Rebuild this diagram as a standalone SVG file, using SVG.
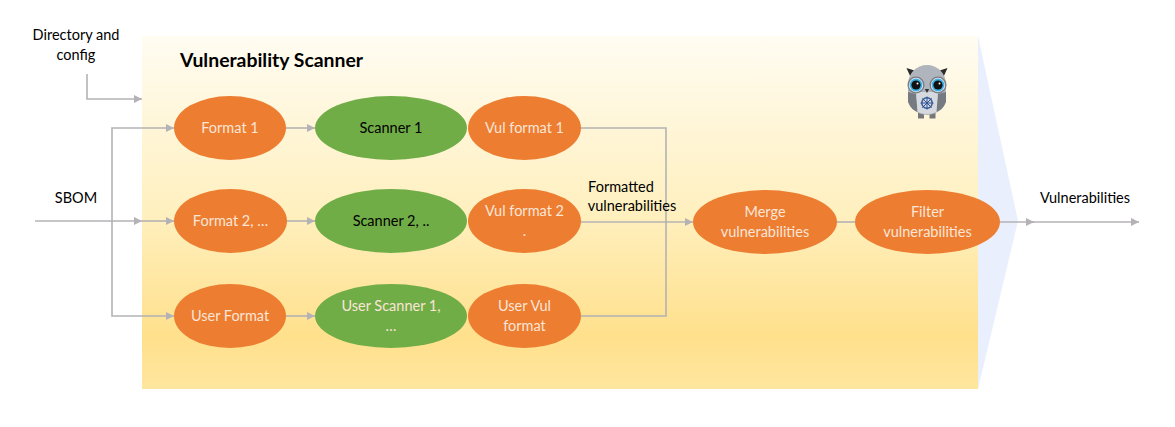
<svg xmlns="http://www.w3.org/2000/svg" width="1175" height="427" viewBox="0 0 1175 427">
<style>
text{font-family:Lato,"Liberation Sans",sans-serif;font-size:14.5px;text-anchor:middle}
.l{fill:#000}
.w{fill:#fbe5d6}
.o{fill:#ed7d31}
.g{fill:#70ad47}
.c{fill:none;stroke:#b4b2b5;stroke-width:1.6}
</style>
<defs>
<linearGradient id="bg" x1="0" y1="0" x2="0" y2="1">
<stop offset="0" stop-color="#fffcf2"/><stop offset="0.5" stop-color="#fff0bf"/><stop offset="0.85" stop-color="#ffe08c"/><stop offset="1" stop-color="#ffe69f"/>
</linearGradient>
<marker id="a" markerUnits="userSpaceOnUse" markerWidth="9" markerHeight="9" refX="8" refY="4" orient="auto"><path d="M0 0L8 4L0 8Z" fill="#b4b2b5"/></marker>
</defs>
<g id="scanner-box">
<path d="M978 36L1018 221L978 389Z" fill="#e9effc"/>
<rect x="142" y="36" width="836" height="353" fill="url(#bg)"/>
<text x="271.500" y="67" style="font-size:19.400px;font-weight:700" class="l">Vulnerability Scanner</text>
</g>
<g id="connectors">
<path class="c" marker-end="url(#a)" d="M87 74V99H142"/>
<path class="c" marker-end="url(#a)" d="M35 221H142"/>
<path class="c" marker-end="url(#a)" d="M142 221H174"/>
<path class="c" marker-end="url(#a)" d="M112 221V128H174"/>
<path class="c" marker-end="url(#a)" d="M112 221V316H174"/>
<path class="c" marker-end="url(#a)" d="M286 128H315"/>
<path class="c" marker-end="url(#a)" d="M286 221H315"/>
<path class="c" marker-end="url(#a)" d="M286 316H315"/>
<path class="c" d="M581 128H666V316H581"/>
<path class="c" marker-end="url(#a)" d="M580 222H693"/>
<path class="c" d="M837 222H855"/>
<path class="c" marker-end="url(#a)" d="M1000 222H1034"/>
<path class="c" marker-end="url(#a)" d="M1030 222H1139"/>
</g>
<g id="label-directory"><text class="l" x="76" y="40">Directory and</text><text class="l" x="76" y="60">config</text></g>
<g id="label-sbom"><text class="l" x="76" y="203">SBOM</text></g>
<g id="label-formatted"><text class="l" x="621" y="192">Formatted</text><text class="l" x="632" y="211">vulnerabilities</text></g>
<g id="label-vulnerabilities"><text class="l" x="1085" y="203">Vulnerabilities</text></g>
<g id="format-1"><ellipse class="o" cx="230" cy="128" rx="56" ry="32"/><text class="w" x="230" y="133">Format 1</text></g>
<g id="format-2"><ellipse class="o" cx="230.500" cy="221" rx="56.500" ry="32"/><text class="w" x="230.500" y="226">Format 2, …</text></g>
<g id="user-format"><ellipse class="o" cx="230" cy="316" rx="56" ry="32"/><text class="w" x="230" y="321">User Format</text></g>
<g id="scanner-1"><ellipse class="g" cx="391" cy="128" rx="76" ry="32"/><text class="l" x="391" y="133">Scanner 1</text></g>
<g id="scanner-2"><ellipse class="g" cx="391" cy="221" rx="76" ry="32"/><text class="l" x="391" y="226">Scanner 2, ..</text></g>
<g id="user-scanner"><ellipse class="g" cx="391" cy="316" rx="76" ry="32"/><text class="w" x="391" y="311">User Scanner 1,</text><text class="w" x="391" y="331">…</text></g>
<g id="vul-format-1"><ellipse class="o" cx="524.500" cy="128" rx="56.500" ry="32"/><text class="w" x="524.500" y="133">Vul format 1</text></g>
<g id="vul-format-2"><ellipse class="o" cx="524.500" cy="221" rx="56.500" ry="32"/><text class="w" x="524.500" y="216">Vul format 2</text><text class="w" x="524.500" y="236">.</text></g>
<g id="user-vul-format"><ellipse class="o" cx="524.500" cy="316" rx="56.500" ry="32"/><text class="w" x="524.500" y="311">User Vul</text><text class="w" x="524.500" y="331">format</text></g>
<g id="merge"><ellipse class="o" cx="765" cy="222" rx="72" ry="32"/><text class="w" x="765" y="217">Merge</text><text class="w" x="765" y="237">vulnerabilities</text></g>
<g id="filter"><ellipse class="o" cx="927.500" cy="222" rx="72.500" ry="32"/><text class="w" x="927.500" y="217">Filter</text><text class="w" x="927.500" y="237">vulnerabilities</text></g>
<g id="owl">
<path d="M906.500 68L916 71L911 78Z M947.500 68L938 71L943 78Z" fill="#2b2b2b"/>
<rect x="918" y="112" width="6" height="6.500" fill="#77777a"/><rect x="929.500" y="112" width="6" height="6.500" fill="#77777a"/>
<rect x="908" y="65" width="38" height="50" rx="19" fill="#b0b4bc"/>
<path d="M908 92L916 94L918 112Q911 110 908 102Z M946 92L938 94L936 112Q943 110 946 102Z" fill="#767a81"/>
<path d="M916 92H938L936.500 112Q927 116 917.500 112Z" fill="#d6d9dd"/>
<circle cx="916" cy="85" r="8.500" fill="#777b82"/><circle cx="938" cy="85" r="8.500" fill="#777b82"/>
<circle cx="916" cy="85" r="7.200" fill="#e8eef2"/><circle cx="938" cy="85" r="7.200" fill="#e8eef2"/>
<circle cx="916" cy="85" r="6.400" fill="#3fb0e4"/><circle cx="938" cy="85" r="6.400" fill="#3fb0e4"/>
<circle cx="916" cy="85" r="4.600" fill="#111"/><circle cx="938" cy="85" r="4.600" fill="#111"/>
<circle cx="917.500" cy="83.500" r="1" fill="#fff"/><circle cx="939.500" cy="83.500" r="1" fill="#fff"/>
<path d="M924.800 89H929.200L927 93Z" fill="#333"/>
<circle cx="927" cy="103" r="5.200" fill="none" stroke="#2f5597" stroke-width="1.400"/>
<path d="M927 96.500V109.500M920.500 103H933.500M922.400 98.400L931.600 107.600M931.600 98.400L922.400 107.600" stroke="#2f5597" stroke-width="1"/>
</g>
</svg>
